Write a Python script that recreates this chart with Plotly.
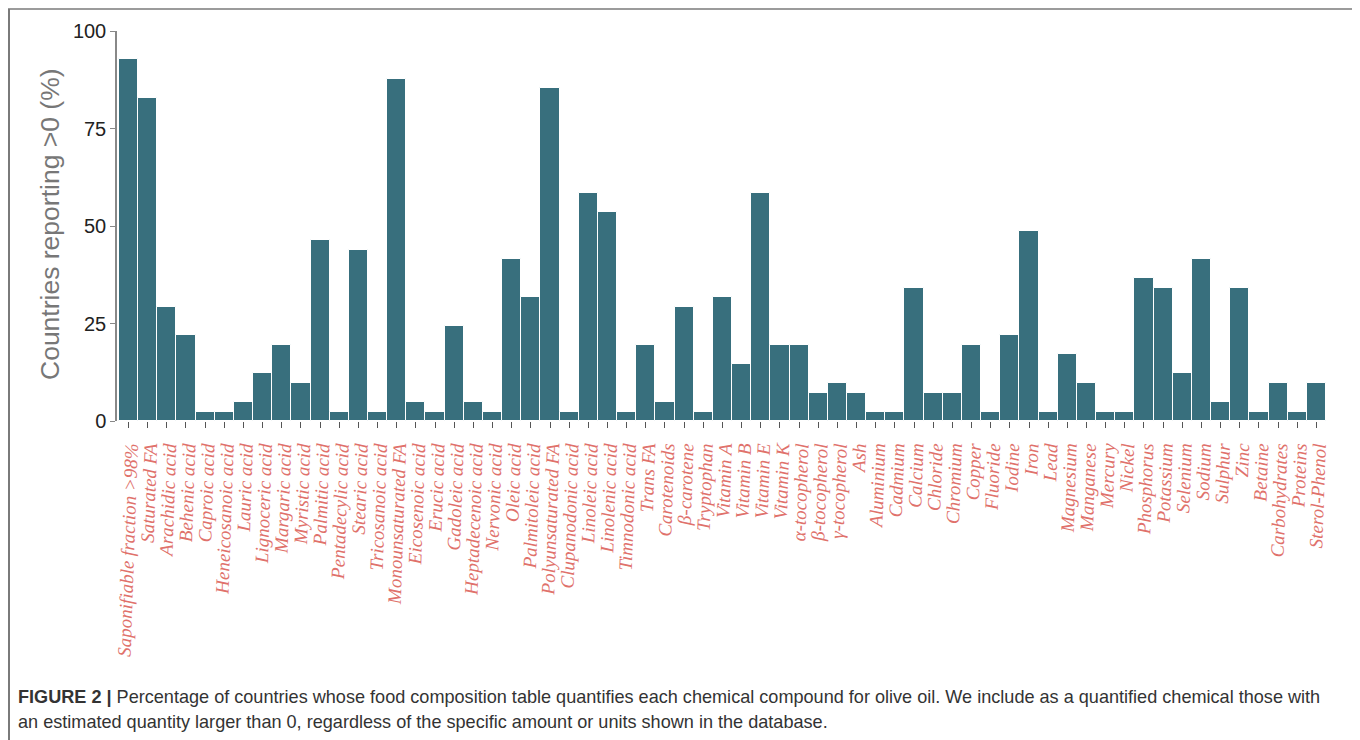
import plotly.graph_objects as go

W, H = 1360, 740
OFF = 8  # page body margin offset

compounds = [
    "Saponifiable fraction >98%", "Saturated FA", "Arachidic acid", "Behenic acid",
    "Caproic acid", "Heneicosanoic acid", "Lauric acid", "Lignoceric acid",
    "Margaric acid", "Myristic acid", "Palmitic acid", "Pentadecylic acid",
    "Stearic acid", "Tricosanoic acid", "Monounsaturated FA", "Eicosenoic acid",
    "Erucic acid", "Gadoleic acid", "Heptadecenoic acid", "Nervonic acid",
    "Oleic acid", "Palmitoleic acid", "Polyunsaturated FA", "Clupanodonic acid",
    "Linoleic acid", "Linolenic acid", "Timnodonic acid", "Trans FA",
    "Carotenoids", "β-carotene", "Tryptophan", "Vitamin A", "Vitamin B",
    "Vitamin E", "Vitamin K", "α-tocopherol", "β-tocopherol", "γ-tocopherol",
    "Ash", "Aluminium", "Cadmium", "Calcium", "Chloride", "Chromium", "Copper",
    "Fluoride", "Iodine", "Iron", "Lead", "Magnesium", "Manganese", "Mercury",
    "Nickel", "Phosphorus", "Potassium", "Selenium", "Sodium", "Sulphur", "Zinc",
    "Betaine", "Carbohydrates", "Proteins", "Sterol-Phenol",
]

pct_reporting = [
    92.7, 82.9, 29.3, 22.0,
    2.4, 2.4, 4.9, 12.2,
    19.5, 9.8, 46.3, 2.4,
    43.9, 2.4, 87.8, 4.9,
    2.4, 24.4, 4.9, 2.4,
    41.5, 31.7, 85.4, 2.4,
    58.5, 53.7, 2.4, 19.5,
    4.9, 29.3, 2.4, 31.7, 14.6,
    58.5, 19.5, 19.5, 7.3, 9.8,
    7.3, 2.4, 2.4, 34.1, 7.3, 7.3, 19.5,
    2.4, 22.0, 48.8, 2.4, 17.1, 9.8, 2.4,
    2.4, 36.6, 34.1, 12.2, 41.5, 4.9, 34.1,
    2.4, 9.8, 2.4, 9.8,
]

y_ticks = [0, 25, 50, 75, 100]

caption_1 = ("<b>FIGURE 2 |</b> Percentage of countries whose food composition table quantifies "
             "each chemical compound for olive oil. We include as a quantified chemical those with")
caption_2 = ("an estimated quantity larger than 0, regardless of the specific amount or units "
             "shown in the database.")


def px(x):
    return (x - OFF) / W


def py(y):
    return (H - (y - OFF)) / H


# pixel geometry (screen coordinates)
x0, x1 = 117, 1326
y_top, y_base = 31, 421

fig = go.Figure(go.Bar(
    x=list(range(len(compounds))),
    y=pct_reporting,
    marker=dict(color="#386f7d", line=dict(color="white", width=1)),
    width=1.0,
    hoverinfo="x+y",
))

border = dict(color="#7a7a7a", width=2)

fig.update_layout(
    width=W, height=H,
    margin=dict(l=0, r=0, t=0, b=0, autoexpand=False),
    paper_bgcolor="white", plot_bgcolor="white",
    showlegend=False,
    bargap=0,
    font=dict(family="Liberation Sans, Arial, sans-serif"),
    xaxis=dict(
        domain=[px(x0), px(x1)],
        range=[-0.6, len(compounds) - 0.5],
        tickmode="array",
        tickvals=list(range(len(compounds))),
        ticktext=compounds,
        tickangle=-88,
        ticks="outside", ticklen=6, tickwidth=1, tickcolor="#555",
        ticklabelstandoff=2,
        tickfont=dict(family="Liberation Serif, Times New Roman, serif", size=19,
                      color="#e0716b", style="italic"),
        showline=False, showgrid=False, zeroline=False,
        automargin=False,
    ),
    yaxis=dict(
        domain=[py(y_base), py(y_top)],
        range=[0, 100],
        tickmode="array", tickvals=y_ticks,
        ticks="outside", ticklen=5, tickwidth=1, tickcolor="#888",
        tickfont=dict(family="Liberation Sans, Arial, sans-serif", size=20, color="#222"),
        showline=True, linecolor="#888", linewidth=1.5,
        showgrid=False, zeroline=False,
        automargin=False,
    ),
    shapes=[
        dict(type="line", xref="paper", yref="paper",
             x0=1 / W, x1=1 / W, y0=0, y1=py(9), line=border),
        dict(type="line", xref="paper", yref="paper",
             x0=px(1356), x1=px(1356), y0=0, y1=py(9), line=border),
        dict(type="line", xref="paper", yref="paper",
             x0=0, x1=px(1356), y0=py(9), y1=py(9), line=dict(color="#7a7a7a", width=1.5)),
    ],
    annotations=[
        dict(text="Countries reporting >0 (%)", x=px(50), y=py(224),
             xref="paper", yref="paper", showarrow=False, textangle=-90,
             font=dict(family="Liberation Sans, Arial, sans-serif", size=26.5, color="#777"),
             xanchor="center", yanchor="middle"),
        dict(text=caption_1, x=px(16), y=py(697), xref="paper", yref="paper",
             showarrow=False, xanchor="left", yanchor="middle", align="left",
             font=dict(family="Liberation Sans, Arial, sans-serif", size=18.1, color="#333")),
        dict(text=caption_2, x=px(16), y=py(722), xref="paper", yref="paper",
             showarrow=False, xanchor="left", yanchor="middle", align="left",
             font=dict(family="Liberation Sans, Arial, sans-serif", size=18.1, color="#333")),
    ],
)

fig.write_html("out.html")
